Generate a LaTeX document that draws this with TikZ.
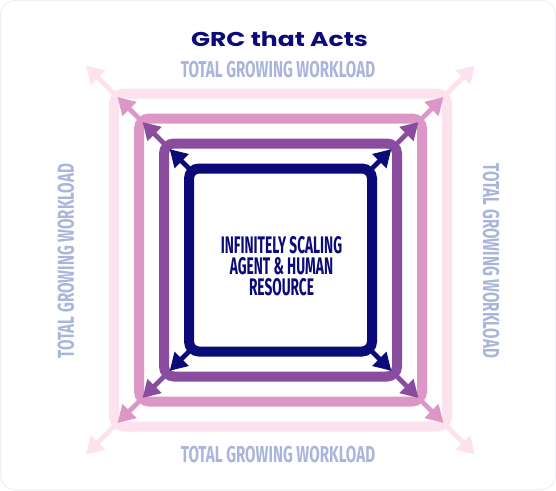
\documentclass[tikz,border=0pt]{standalone}
\usepackage{fontspec}
\usepackage{tikz}
\usetikzlibrary{positioning, arrows.meta, calc}
\setmainfont{Fira Sans}
\newfontfamily\titlefont[FakeStretch=1.25]{Poppins}
\newfontfamily\labelfont[FakeStretch=0.66]{Fira Sans}
\newfontfamily\corefont[FakeStretch=0.57]{Fira Sans}
\definecolor{navyblue}{HTML}{0A0A78}
\definecolor{plum}{HTML}{8A4C9E}
\definecolor{orchid}{HTML}{DC97C6}
\definecolor{blush}{HTML}{FCE2EF}
\definecolor{workload}{HTML}{AAB5DB}
\definecolor{framegray}{HTML}{EDF0F8}

\tikzset{
	ring/.style={draw, rectangle, rounded corners=10pt, line width=10pt, outer sep=0pt, inner sep=0pt},
	growarrow/.style={line width=4.8pt, -{Triangle[length=17pt,width=19pt]}, shorten >=5pt},
	workloadlabel/.style={text=workload, inner sep=0pt, font=\labelfont\bfseries\fontsize{23}{23}\selectfont}
}

\begin{document}
\begin{tikzpicture}[x=1pt, y=-1pt]
	\useasboundingbox (0,0) rectangle (556,490);
	\draw[framegray, fill=white, line width=1pt, rounded corners=14pt] (0.5,0.5) rectangle (555.5,489.5);
	\pgfmathsetmacro{\cx}{280.5}
	\pgfmathsetmacro{\cy}{260}
	
	\node[text=navyblue, anchor=base, font=\titlefont\bfseries\fontsize{20}{20}\selectfont] (title) at (279.5,46) {GRC that Acts};
	
	\node[ring, draw=blush, minimum size=333pt] (blushsq) at (\cx,\cy) {};
	\node[ring, draw=orchid, minimum size=283pt] (orchidsq) at (\cx,\cy) {};
	\node[ring, draw=plum, minimum size=233pt] (plumsq) at (\cx,\cy) {};
	\node[ring, draw=navyblue, minimum size=183pt] (navysq) at (\cx,\cy) {};
	
	%% free ends of the outer arrows
	\coordinate (outnw) at (86,65.5);
	\coordinate (outne) at (475,65.5);
	\coordinate (outsw) at (86,454.5);
	\coordinate (outse) at (475,454.5);
	
	\foreach \c/\o in {north west/outnw, north east/outne, south west/outsw, south east/outse}{
		\draw[growarrow, navyblue, shorten >=8pt] (navysq.\c) -- (plumsq.\c);
		\draw[growarrow, plum] (plumsq.\c) -- (orchidsq.\c);
		\draw[growarrow, orchid] (orchidsq.\c) -- (blushsq.\c);
		\draw[growarrow, blush, shorten >=0pt] (blushsq.\c) -- (\o);
	}
	
	\node[text=navyblue, align=center, inner sep=0pt, font=\corefont\bfseries\fontsize{24}{21}\selectfont] (core) at (281.5,266.5) {INFINITELY SCALING\\AGENT \& HUMAN\\RESOURCE};
	
	\node[workloadlabel] (topload) at (278,70) {TOTAL GROWING WORKLOAD};
	\node[workloadlabel] (bottomload) at (278,455) {TOTAL GROWING WORKLOAD};
	\node[workloadlabel, rotate=90] (leftload) at (66,261) {TOTAL GROWING WORKLOAD};
	\node[workloadlabel, rotate=-90] (rightload) at (491,261) {TOTAL GROWING WORKLOAD};
\end{tikzpicture}
\end{document}
